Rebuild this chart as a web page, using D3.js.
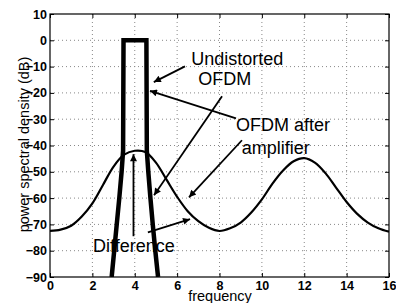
<!DOCTYPE html>
<html lang="en"><head>
<meta charset="utf-8">
<title>OFDM spectrum</title>
<script src="https://cdn.jsdelivr.net/npm/d3@7"></script>
<style>
body { margin: 0; background: #fff; }
text { font-family: "Liberation Sans", Arial, sans-serif; fill: #000; }
</style>
</head>
<body>
<div id="chart"></div>
<script>

// axis ticks
var xTicks = [0, 2, 4, 6, 8, 10, 12, 14, 16];
var yTicks = [10, 0, -10, -20, -30, -40, -50, -60, -70, -80, -90];

// OFDM after amplifier (frequency, dB)
var ampFreq = [0, 0.5, 1, 1.5, 2, 2.5, 3, 3.5, 4, 4.5, 5, 5.5, 6, 6.5, 7, 7.5, 8,
               8.5, 9, 9.5, 10, 10.5, 11, 11.5, 12, 12.5, 13, 13.5, 14, 14.5, 15, 15.5, 16];
var ampDB = [-72.5, -72, -70.5, -67, -62, -55, -48, -43.5, -42, -42.5, -46.5, -53, -59.5, -65, -68.8, -71.3, -72.5,
             -71.5, -69.3, -65.5, -60.5, -54.5, -49.5, -46, -44.8, -46.5, -50.5, -56, -61.5, -66, -69.3, -71.5, -72.8];

// undistorted OFDM
var undFreq = [2.91, 3.03, 3.15, 3.27, 3.38, 3.45, 3.47, 4.55, 4.57, 4.64, 4.74, 4.85, 4.97, 5.1];
var undDB = [-90, -80, -70, -60, -50, -42, 0, 0, -42, -50, -60, -70, -80, -90];

// annotations: [x1, y1, x2, y2] in data units (arrow points at x2,y2)
var arrows = [
  [6.37, -9.9, 4.9, -15.9],
  [8.78, -29.7, 4.72, -19.2],
  [8.12, -21.3, 4.91, -58.9],
  [9.06, -38, 6.56, -59.7],
  [4.62, -73, 6.61, -68],
  [3.94, -74.5, 3.94, -43.3]
];
var labels = [
  {text: "Undistorted", f: 6.67, db: -9.5},
  {text: "OFDM", f: 7.0, db: -17},
  {text: "OFDM after", f: 8.78, db: -34.5},
  {text: "amplifier", f: 9.05, db: -43.3},
  {text: "Difference", f: 2.03, db: -80.5}
];

var width = 396, height = 303;
var margin = {top: 14, right: 7, bottom: 26, left: 50};
var w = width - margin.left - margin.right;
var h = height - margin.top - margin.bottom;

var svg = d3.select("#chart").append("svg")
    .attr("width", width)
    .attr("height", height);

svg.append("defs").append("clipPath").attr("id", "clip")
  .append("rect").attr("width", w).attr("height", h);

svg.select("defs").append("marker")
    .attr("id", "head")
    .attr("viewBox", "0 0 10 10")
    .attr("refX", 10).attr("refY", 5)
    .attr("markerUnits", "userSpaceOnUse")
    .attr("markerWidth", 10).attr("markerHeight", 7)
    .attr("orient", "auto")
  .append("path").attr("d", "M0,0L10,5L0,10z").attr("fill", "#000");

var g = svg.append("g").attr("transform", "translate(" + margin.left + "," + margin.top + ")");

var x = d3.scaleLinear().domain([0, 16]).range([0, w]);
var y = d3.scaleLinear().domain([-90, 10]).range([h, 0]);

// grid
g.selectAll(".gx").data(xTicks.slice(1, -1)).enter().append("line")
    .attr("x1", function (d) { return x(d); }).attr("x2", function (d) { return x(d); })
    .attr("y1", 0).attr("y2", h)
    .attr("stroke", "#888").attr("stroke-dasharray", "1,3");
g.selectAll(".gy").data(yTicks.slice(1, -1)).enter().append("line")
    .attr("y1", function (d) { return y(d); }).attr("y2", function (d) { return y(d); })
    .attr("x1", 0).attr("x2", w)
    .attr("stroke", "#888").attr("stroke-dasharray", "1,3");

// axes with inward ticks
var xAxis = g.append("g").attr("transform", "translate(0," + h + ")")
    .call(d3.axisBottom(x).tickValues(xTicks).tickSizeInner(-4).tickSizeOuter(0).tickPadding(4));
var xAxisTop = g.append("g")
    .call(d3.axisTop(x).tickValues(xTicks).tickSizeInner(-4).tickSizeOuter(0).tickFormat(""));
var yAxis = g.append("g")
    .call(d3.axisLeft(y).tickValues(yTicks).tickSizeInner(-4).tickSizeOuter(0).tickPadding(3));
var yAxisRight = g.append("g").attr("transform", "translate(" + w + ",0)")
    .call(d3.axisRight(y).tickValues(yTicks).tickSizeInner(-4).tickSizeOuter(0).tickFormat(""));

g.selectAll(".domain").remove();
g.selectAll(".tick line").attr("stroke", "#000");
g.selectAll(".tick text")
    .style("font-family", "'Liberation Sans', Arial, sans-serif")
    .style("font-size", "12.5px")
    .style("font-weight", "bold");

g.append("rect").attr("width", w).attr("height", h)
    .attr("fill", "none").attr("stroke", "#000").attr("stroke-width", 1.2);

// curves
var plot = g.append("g").attr("clip-path", "url(#clip)");

var ampLine = d3.line()
    .x(function (d, i) { return x(ampFreq[i]); })
    .y(function (d, i) { return y(ampDB[i]); })
    .curve(d3.curveCatmullRom);
plot.append("path").datum(ampFreq).attr("d", ampLine)
    .attr("fill", "none").attr("stroke", "#000").attr("stroke-width", 2.2);

var undLine = d3.line()
    .x(function (d, i) { return x(undFreq[i]); })
    .y(function (d, i) { return y(undDB[i]); });
plot.append("path").datum(undFreq).attr("d", undLine)
    .attr("fill", "none").attr("stroke", "#000").attr("stroke-width", 4.5)
    .attr("stroke-linejoin", "miter");

// annotations
g.selectAll(".arrow").data(arrows).enter().append("line")
    .attr("x1", function (d) { return x(d[0]); }).attr("y1", function (d) { return y(d[1]); })
    .attr("x2", function (d) { return x(d[2]); }).attr("y2", function (d) { return y(d[3]); })
    .attr("stroke", "#000").attr("stroke-width", 1.8)
    .attr("marker-end", "url(#head)");

g.selectAll(".lbl").data(labels).enter().append("text")
    .attr("x", function (d) { return x(d.f); })
    .attr("y", function (d) { return y(d.db); })
    .style("font-size", "18px")
    .text(function (d) { return d.text; });

// axis titles
svg.append("text")
    .attr("x", 220).attr("y", 300.5)
    .attr("text-anchor", "middle")
    .style("font-size", "14.5px")
    .text("frequency");

svg.append("text")
    .attr("transform", "translate(29,144.5) rotate(-90)")
    .attr("text-anchor", "middle")
    .style("font-size", "14.5px")
    .text("power spectral density (dB)");

</script>
</body></html>
